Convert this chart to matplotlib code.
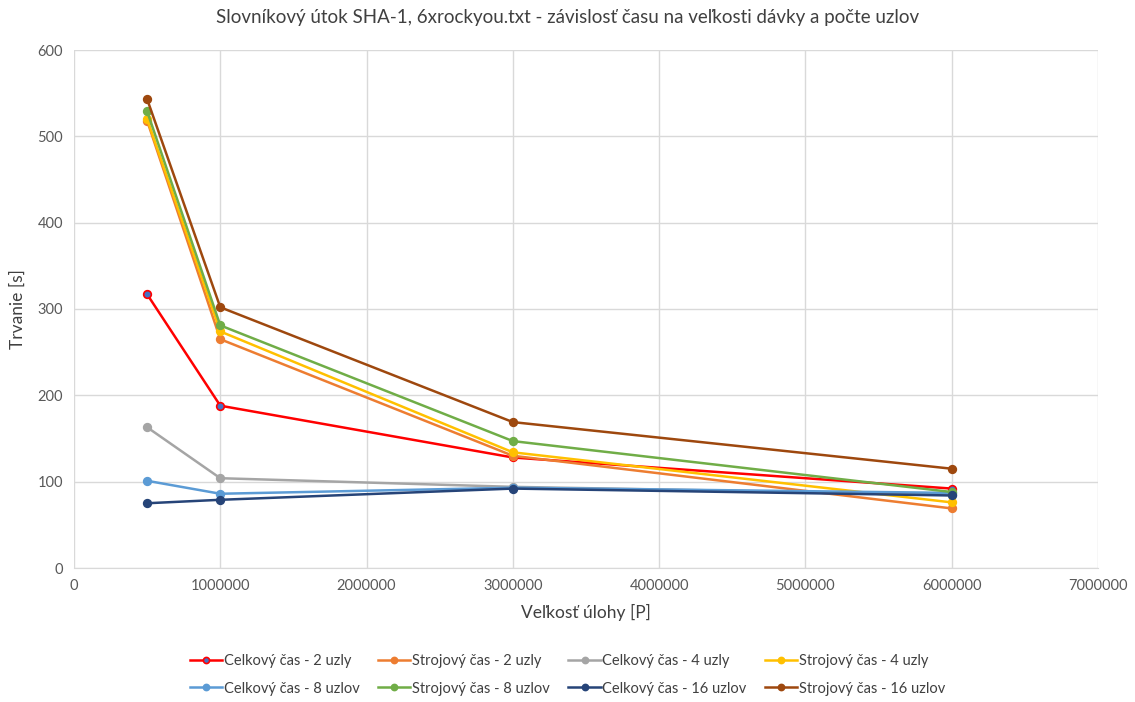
import numpy as np
import matplotlib.pyplot as plt

plt.rcParams['font.family'] = ['Lato', 'DejaVu Sans']

x = [500000, 1000000, 3000000, 6000000]
celk_2 = [317, 188, 128, 92]
stroj_2 = [518, 265, 130, 69]
celk_4 = [163, 104, 94, 85]
stroj_4 = [520, 274, 134, 76]
celk_8 = [101, 86, 93, 87]
stroj_8 = [529, 281, 147, 88]
celk_16 = [75, 79, 92, 84]
stroj_16 = [543, 302, 169, 115]

series = [
    ('Celkový čas - 2 uzly', celk_2, '#FF0000', '#4472C4'),
    ('Strojový čas - 2 uzly', stroj_2, '#ED7D31', None),
    ('Celkový čas - 4 uzly', celk_4, '#A5A5A5', None),
    ('Strojový čas - 4 uzly', stroj_4, '#FFC000', None),
    ('Celkový čas - 8 uzlov', celk_8, '#5B9BD5', None),
    ('Strojový čas - 8 uzlov', stroj_8, '#70AD47', None),
    ('Celkový čas - 16 uzlov', celk_16, '#264478', None),
    ('Strojový čas - 16 uzlov', stroj_16, '#9E480E', None),
]

fig = plt.figure(figsize=(11.35, 7.02), dpi=100)
ax = fig.add_axes([74/1135, 1-568/702, (1098-74)/1135, (568-50)/702])

for label, vals, col, face in series:
    ax.plot(x, vals, color=col, lw=1.8, marker='o', ms=5.5,
            markerfacecolor=face if face else col, markeredgecolor=col,
            markeredgewidth=1.2, label=label)

ax.set_xlim(0, 7000000)
ax.set_ylim(0, 600)
ax.set_xticks(np.arange(0, 7000001, 1000000))
ax.set_yticks(np.arange(0, 601, 100))
ax.ticklabel_format(style='plain', axis='x')
ax.grid(True, color='#D9D9D9', lw=1)
ax.set_axisbelow(True)
for s in ['top', 'right', 'left']:
    ax.spines[s].set_visible(False)
ax.spines['bottom'].set_color('#D9D9D9')
ax.tick_params(length=0, labelsize=10.5, colors='#595959', pad=8)

ax.set_xlabel('Veľkosť úlohy [P]', fontsize=12.5, color='#404040', labelpad=8)
ax.set_ylabel('Trvanie [s]', fontsize=12.5, color='#404040', labelpad=8)
fig.suptitle('Slovníkový útok SHA-1, 6xrockyou.txt - závislosť času na veľkosti dávky a počte uzlov',
             fontsize=13.5, color='#404040', y=1-18/702, va='center')

# legenda po riadkoch ako v Exceli
handles, labels = ax.get_legend_handles_labels()
order = [0, 4, 1, 5, 2, 6, 3, 7]
fig.legend([handles[i] for i in order], [labels[i] for i in order],
           loc='center', bbox_to_anchor=(0.5, 1-675/702), ncol=4, frameon=False,
           fontsize=10.5, handlelength=2.2, handletextpad=0.1, columnspacing=1.3,
           labelspacing=0.9, markerscale=0.8)
for t in fig.legends[0].get_texts():
    t.set_color('#404040')

fig.savefig('out.png', dpi=100)
